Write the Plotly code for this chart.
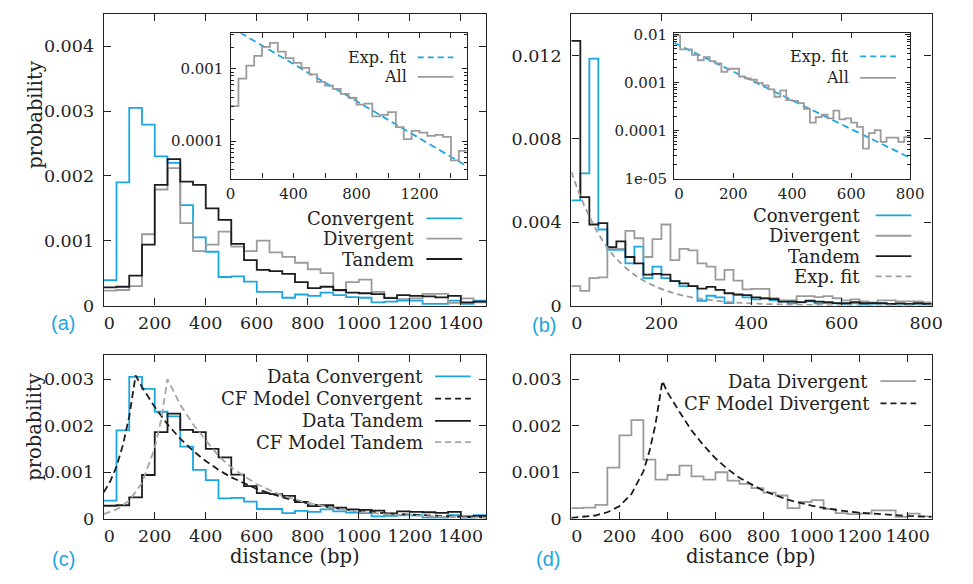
import plotly.graph_objects as go

W, H = 973, 584

# ---------------- data ----------------
BIN_A = 50   # bp, panels (a), (c), (d) and inset of (a)
BIN_B = 20   # bp, panel (b) and its inset

conv_a = [0.00039, 0.0019, 0.00305, 0.00279, 0.0023, 0.0022, 0.00155, 0.00105, 0.00083, 0.00044,
          0.00045, 0.00037, 0.00021, 0.00021, 0.00012, 0.00017, 0.00015, 0.0002, 0.00016, 0.00013,
          0.00012, 0.00005, 0.00006, 0.000075, 0.000075, 0.000025, 0.000025, 0.000075, 0.000025, 0.000075]
div_a = [0.00023, 0.00024, 0.0003, 0.0011, 0.00179, 0.00212, 0.00127, 0.00084, 0.00094, 0.00114,
         0.00091, 0.00084, 0.001, 0.00082, 0.00075, 0.00066, 0.00056, 0.0005, 0.00023, 0.00036,
         0.0004, 0.00021, 0.00012, 0.0001, 0.00011, 0.00018, 0.00018, 0.00004, 0.00011, 0.00005]
tand_a = [0.00028, 0.00029, 0.00046, 0.00094, 0.00186, 0.00226, 0.00191, 0.00186, 0.0015, 0.00132,
          0.00095, 0.0007, 0.00055, 0.00053, 0.00049, 0.00036, 0.00027, 0.00029, 0.00024, 0.0002,
          0.00019, 0.000175, 0.000115, 0.00016, 0.00015, 0.00014, 0.000125, 0.00015, 0.00005, 0.00006]

conv_b = [0.00505, 0.00634, 0.01185, 0.00365, 0.00267, 0.00267, 0.00202, 0.00283, 0.00132, 0.00187,
          0.00132, 0.00117, 0.00093, 0.00093, 0.00023, 0.00047, 0.00039, 0.00012, 0.0005, 0.00039,
          0.0003, 0.00035, 0.00025, 0.0002, 0.0001, 0.00015, 0.0002, 0.0001, 0.00012, 0.0001,
          0.00008, 0.0001, 0.00005, 0.00008, 0.0001, 0.00005, 0.00008, 0.00005, 0.00008, 0.00005]
div_b = [0.00093, 0.0007, 0.00132, 0.00135, 0.00272, 0.00272, 0.00358, 0.00323, 0.00233, 0.00319,
         0.00389, 0.00218, 0.00272, 0.00265, 0.00202, 0.00187, 0.00124, 0.00171, 0.0012, 0.00078,
         0.0008, 0.0008, 0.00035, 0.00025, 0.00025, 0.00045, 0.00045, 0.0004, 0.00045, 0.00035,
         0.00025, 0.0003, 0.0002, 0.00015, 0.00025, 0.00025, 0.0002, 0.0002, 0.0002, 0.00015]
tand_b = [0.0127, 0.0052, 0.00389, 0.00396, 0.0028, 0.00308, 0.00233, 0.00202, 0.00148, 0.00152,
          0.00148, 0.00117, 0.00106, 0.00093, 0.00081, 0.0009, 0.00075, 0.00059, 0.00054, 0.0005,
          0.00039, 0.00034, 0.00031, 0.00019, 0.00019, 0.00016, 0.00023, 0.00019, 0.00016, 0.00012,
          0.00011, 0.00016, 0.00011, 0.00012, 0.00011, 0.00008, 0.0001, 0.00008, 0.00011, 0.00008]
expfit_b_x = [0, 20, 40, 60, 80, 100, 140, 180, 240, 320, 400, 500, 600, 700, 800]
expfit_b_y = [0.00642, 0.00525, 0.00428, 0.00345, 0.00278, 0.00224, 0.00148, 0.00098, 0.00052,
              0.00023, 0.0001, 0.00004, 0.000015, 0.000006, 0.000002]

all_a = [3.05e-4, 7.3e-4, 1.11e-3, 1.51e-3, 2.02e-3, 2.29e-3, 1.73e-3, 1.41e-3, 1.21e-3, 1.03e-3,
         8.4e-4, 6.6e-4, 5.85e-4, 5.27e-4, 4.5e-4, 3.95e-4, 3.2e-4, 3.3e-4, 2.19e-4, 2.31e-4,
         2.51e-4, 1.56e-4, 1.06e-4, 1.38e-4, 1.31e-4, 1.18e-4, 1.22e-4, 1.14e-4, 5.4e-5, 7.3e-5]
all_b = [9.5e-3, 4.9e-3, 4.9e-3, 3.77e-3, 2.9e-3, 3.38e-3, 2.77e-3, 2.48e-3, 1.66e-3, 1.93e-3,
         1.93e-3, 1.33e-3, 1.22e-3, 1.14e-3, 9.8e-4, 8.66e-4, 7.19e-4, 5.04e-4, 6.87e-4, 4.31e-4,
         4.12e-4, 3.7e-4, 2.84e-4, 1.46e-4, 1.9e-4, 2.15e-4, 1.79e-4, 2.59e-4, 1.71e-4, 1.79e-4,
         1.46e-4, 1.19e-4, 4.2e-5, 8.8e-5, 1.02e-4, 5.8e-5, 7.1e-5, 7.1e-5, 5.8e-5, 7.3e-5]
fit_a_x = [0, 1500]
fit_a_y = [3.8e-3, 4.5e-5]
fit_b_x = [0, 800]
fit_b_y = [6.7e-3, 2.7e-5]

cf_conv_x = [0, 25, 50, 75, 100, 125, 150, 175, 200, 250, 300, 350, 400, 450, 500, 600, 700, 800,
             900, 1000, 1100, 1200, 1300, 1400, 1500]
cf_conv_y = [0.00057, 0.0008, 0.00112, 0.00158, 0.0022, 0.00308, 0.00283, 0.00261, 0.0024, 0.00203,
             0.00172, 0.00146, 0.00124, 0.00105, 0.00089, 0.00064, 0.00046, 0.00033, 0.00023, 0.00017,
             0.00012, 0.00009, 0.00006, 0.00004, 0.00003]
cf_tand_x = [0, 50, 100, 150, 200, 225, 250, 300, 350, 400, 450, 500, 600, 700, 800, 900, 1000,
             1100, 1200, 1300, 1400, 1500]
cf_tand_y = [0.0001, 0.0002, 0.00039, 0.00077, 0.00152, 0.00213, 0.003, 0.00245, 0.00203, 0.00168,
             0.00135, 0.0011, 0.00074, 0.0005, 0.00034, 0.00023, 0.00015, 0.0001, 0.00007, 0.00005,
             0.00003, 0.00002]
cf_div_x = [0, 50, 100, 150, 200, 250, 300, 325, 350, 379, 400, 450, 500, 550, 600, 650, 700, 800,
            900, 1000, 1100, 1200, 1300, 1400, 1500]
cf_div_y = [0.00002, 0.00004, 0.00007, 0.00014, 0.00027, 0.00053, 0.00102, 0.00145, 0.00202, 0.00296,
            0.00272, 0.0023, 0.0019, 0.00158, 0.0013, 0.00107, 0.00088, 0.0006, 0.00041, 0.00028,
            0.00019, 0.00013, 0.00009, 0.00006, 0.00004]

NB = "\u00a0\u00a0"  # nudges edge labels off the frame corner as in the original
xt_long = [0, 200, 400, 600, 800, 1000, 1200, 1400]
xt_long_text = [NB + "0", "200", "400", "600", "800", "1000", "1200", "1400"]
xt_short = [0, 200, 400, 600, 800]
xt_short_text = [NB + "0", "200", "400", "600", "800" + NB]
ins_b_xtext = [NB + "0", "200", "400", "600", "800"]
yt_a = [0, 0.001, 0.002, 0.003, 0.004]
yt_a_text = ["0", "0.001", "0.002", "0.003", "0.004"]
yt_b = [0, 0.004, 0.008, 0.012]
yt_b_text = ["0", "0.004", "0.008", "0.012"]
yt_c = [0, 0.001, 0.002, 0.003]
yt_c_text = ["0", "0.001", "0.002", "0.003"]
ins_a_x = [0, 200, 400, 600, 800, 1000, 1200, 1400]
ins_a_xtext = ["0", "", "400", "", "800", "", "1200", ""]
ins_a_y = [1e-4, 1e-3]
ins_a_ytext = ["0.0001", "0.001"]
ins_b_y = [1e-5, 1e-4, 1e-3, 1e-2]
ins_b_ytext = ["1e-05", "0.0001", "0.001", "0.01"]

# ---------------- style ----------------
BLUE = "#1ba6e2"
GRAY = "#9b9b9b"
BLACK = "#1c1c1c"
TXT = "#222222"
FONT = "DejaVu Serif"


def fx(p):
    return p / W


def fy(p):
    return 1 - p / H


def edges(n, w):
    return [i * w for i in range(n + 1)]


def steps(vals, w, name, color, xa, ya, width=1.8):
    return go.Scatter(x=edges(len(vals), w), y=vals + [vals[-1]], mode="lines",
                      line=dict(color=color, width=width, shape="hv"), name=name,
                      xaxis=xa, yaxis=ya, showlegend=False, hoverinfo="skip")


def curve(x, y, color, dash, xa, ya, width=1.8, shape="linear"):
    return go.Scatter(x=x, y=y, mode="lines", line=dict(color=color, width=width, dash=dash, shape=shape),
                      xaxis=xa, yaxis=ya, showlegend=False, hoverinfo="skip")


traces = [
    steps(conv_a, BIN_A, "Convergent", BLUE, "x", "y"),
    steps(div_a, BIN_A, "Divergent", GRAY, "x", "y"),
    steps(tand_a, BIN_A, "Tandem", BLACK, "x", "y"),
    steps(conv_b, BIN_B, "Convergent", BLUE, "x2", "y2"),
    steps(div_b, BIN_B, "Divergent", GRAY, "x2", "y2"),
    steps(tand_b, BIN_B, "Tandem", BLACK, "x2", "y2"),
    curve(expfit_b_x, expfit_b_y, GRAY, "6px,4px", "x2", "y2", shape="spline"),
    steps(conv_a, BIN_A, "Data Convergent", BLUE, "x3", "y3"),
    curve(cf_conv_x, cf_conv_y, BLACK, "7px,4px", "x3", "y3"),
    steps(tand_a, BIN_A, "Data Tandem", BLACK, "x3", "y3"),
    curve(cf_tand_x, cf_tand_y, "#a6a6a6", "7px,4px", "x3", "y3"),
    steps(div_a, BIN_A, "Data Divergent", GRAY, "x4", "y4"),
    curve(cf_div_x, cf_div_y, BLACK, "7px,4px", "x4", "y4"),
    curve(fit_a_x, fit_a_y, BLUE, "7px,4px", "x5", "y5"),
    steps(all_a, BIN_A, "All", GRAY, "x5", "y5"),
    curve(fit_b_x, fit_b_y, BLUE, "7px,4px", "x6", "y6"),
    steps(all_b, BIN_B, "All", GRAY, "x6", "y6"),
]

fig = go.Figure(traces)


def axis(dom, rng, tv, tt, anchor, ticklen=7, size=17.5, log=False, minor=None, standoff=1):
    d = dict(domain=dom, range=rng, tickmode="array", tickvals=tv, ticktext=tt, anchor=anchor,
             showline=True, linecolor=TXT, linewidth=1.4, mirror="ticks", ticks="inside",
             ticklen=ticklen, tickwidth=1, tickcolor=TXT, showgrid=False, zeroline=False,
             tickfont=dict(family=FONT, size=size, color=TXT), fixedrange=True,
             ticklabelstandoff=standoff)
    if log:
        d["type"] = "log"
    if minor is not None:
        d["minor"] = dict(tickmode="array", tickvals=minor, ticks="inside", ticklen=3,
                          tickcolor=TXT, tickwidth=1, showgrid=False)
    return d


minor_log = [k * 10.0 ** e for e in range(-6, -1) for k in range(2, 10)]

dA = ([fx(96), fx(492)], [fy(307), fy(6)])
dB = ([fx(580), fx(953)], [fy(307), fy(6)])
dC = ([fx(96), fx(492)], [fy(527), fy(358)])
dD = ([fx(580), fx(953)], [fy(527), fy(358)])
dIA = ([fx(227.3), fx(471.7)], [fy(176), fy(26)])
dIB = ([fx(686.5), fx(930.7)], [fy(176), fy(26)])

fig.update_layout(
    width=W, height=H, autosize=False,
    margin=dict(l=0, r=0, t=0, b=0),
    paper_bgcolor="white", plot_bgcolor="white",
    font=dict(family=FONT, color=TXT),
    xaxis=axis(dA[0], [0, 1500], xt_long, xt_long_text, "y"),
    yaxis=axis(dA[1], [0, 0.0045], yt_a, yt_a_text, "x", standoff=5),
    xaxis2=axis(dB[0], [0, 800], xt_short, xt_short_text, "y2"),
    yaxis2=axis(dB[1], [0, 0.014], yt_b, yt_b_text, "x2", standoff=5),
    xaxis3=axis(dC[0], [0, 1500], xt_long, xt_long_text, "y3"),
    yaxis3=axis(dC[1], [0, 0.00352], yt_c, yt_c_text, "x3", standoff=5),
    xaxis4=axis(dD[0], [0, 1500], xt_long, xt_long_text, "y4"),
    yaxis4=axis(dD[1], [0, 0.00352], yt_c, yt_c_text, "x4", standoff=5),
    xaxis5=axis(dIA[0], [0, 1500], ins_a_x, ins_a_xtext, "y5", ticklen=5, size=15, standoff=1),
    yaxis5=axis(dIA[1], [-4.52, -2.506], ins_a_y, ins_a_ytext, "x5", ticklen=5, size=15,
                log=True, minor=minor_log, standoff=3),
    xaxis6=axis(dIB[0], [0, 800], xt_short, ins_b_xtext, "y6", ticklen=5, size=15, standoff=1),
    yaxis6=axis(dIB[1], [-5, -1.975], ins_b_y, ins_b_ytext, "x6", ticklen=5, size=15,
                log=True, minor=minor_log, standoff=3),
)

annotations = []
shapes = []


def legend_entry(text, xr, yc, x0, x1, color, dash, size=18):
    annotations.append(dict(text=text, x=fx(xr), y=fy(yc), xref="paper", yref="paper",
                            xanchor="right", yanchor="middle", showarrow=False,
                            font=dict(family=FONT, size=size, color=TXT)))
    shapes.append(dict(type="line", xref="paper", yref="paper", x0=fx(x0), x1=fx(x1),
                       y0=fy(yc), y1=fy(yc), line=dict(color=color, width=1.8, dash=dash)))


# panel (a)
legend_entry("Convergent", 419, 217, 430, 467, BLUE, "solid")
legend_entry("Divergent", 419, 238, 430, 467, GRAY, "solid")
legend_entry("Tandem", 419, 259, 430, 467, BLACK, "solid")
legend_entry("Exp. fit", 412, 51, 421, 458, BLUE, "6px,4px", size=16)
legend_entry("All", 412, 71, 421, 458, GRAY, "solid", size=16)
# panel (b)
legend_entry("Convergent", 881, 214, 895, 932, BLUE, "solid")
legend_entry("Divergent", 881, 235, 895, 932, GRAY, "solid")
legend_entry("Tandem", 881, 256, 895, 932, BLACK, "solid")
legend_entry("Exp. fit", 881, 277, 895, 932, GRAY, "6px,4px")
legend_entry("Exp. fit", 870, 50, 879, 916, BLUE, "6px,4px", size=16)
legend_entry("All", 870, 72, 879, 916, GRAY, "solid", size=16)
# panel (c)
legend_entry("Data Convergent", 429, 380, 439, 476, BLUE, "solid")
legend_entry("CF Model Convergent", 429, 403, 439, 476, BLACK, "6px,4px")
legend_entry("Data Tandem", 429, 426, 439, 476, BLACK, "solid")
legend_entry("CF Model Tandem", 429, 448, 439, 476, "#a6a6a6", "6px,4px")
# panel (d)
legend_entry("Data Divergent", 889, 385, 900, 937, GRAY, "solid")
legend_entry("CF Model Divergent", 891, 408, 900, 937, BLACK, "6px,4px")

# axis titles
for (xc, yc) in [(294, 566), (766, 566)]:
    annotations.append(dict(text="distance (bp)", x=fx(xc), y=fy(yc), xref="paper", yref="paper",
                            xanchor="center", yanchor="middle", showarrow=False,
                            font=dict(family=FONT, size=19.5, color=TXT)))
for yc in [110, 432]:
    annotations.append(dict(text="probability", x=fx(25), y=fy(yc), xref="paper", yref="paper",
                            xanchor="center", yanchor="middle", showarrow=False, textangle=-90,
                            font=dict(family=FONT, size=19.5, color=TXT)))
# panel letters
for (lab, xc, yc) in [("(a)", 54, 325), ("(b)", 552, 327), ("(c)", 54, 569), ("(d)", 556, 569)]:
    annotations.append(dict(text=lab, x=fx(xc), y=fy(yc), xref="paper", yref="paper",
                            xanchor="center", yanchor="middle", showarrow=False,
                            font=dict(family="Liberation Sans", size=20, color=BLUE)))

fig.update_layout(annotations=annotations, shapes=shapes)
fig.write_html("out.html")
